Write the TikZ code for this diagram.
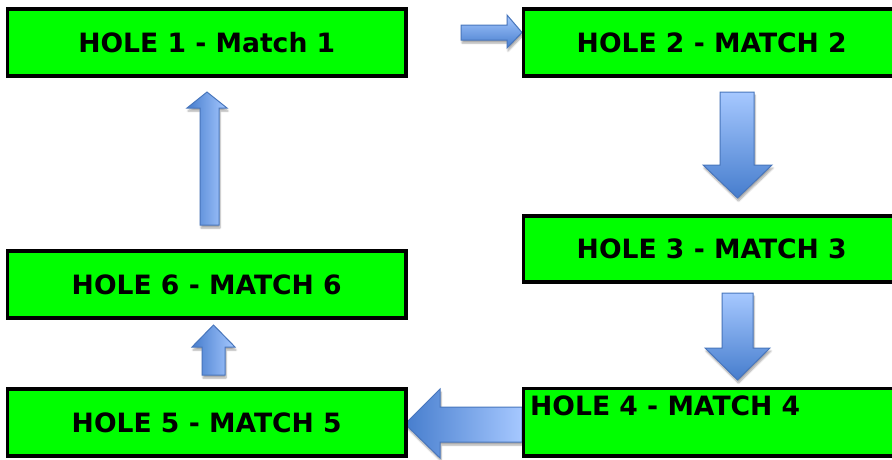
\documentclass[tikz,border=0pt]{standalone}
\usepackage{fontspec}
\newfontfamily\boxfont{DejaVu Sans}
\usetikzlibrary{shadows.blur}
\definecolor{boxgreen}{RGB}{0,255,0}
\definecolor{arrlight}{RGB}{166,200,255}
\definecolor{arrdark}{RGB}{70,125,205}
\definecolor{arredge}{RGB}{72,118,188}
\begin{document}
\begin{tikzpicture}[x=1pt,y=-1pt,
  box/.style={draw=black, line width=3.6pt, fill=boxgreen, inner sep=0pt,
    font=\boxfont\bfseries\fontsize{26.6}{30}\selectfont},
  boxtext/.style={inner sep=0pt, font=\boxfont\bfseries\fontsize{26.6}{30}\selectfont},
  blockarrow/.style={draw=arredge, line width=1pt, line join=miter,
    blur shadow={shadow xshift=1pt, shadow yshift=-3pt, shadow blur steps=6, shadow opacity=35}},
  vshade/.style={top color=arrlight, bottom color=arrdark},
  hshade/.style={left color=arrdark, right color=arrlight}
]
\useasboundingbox (0,0) rectangle (892,459);
\clip (0,0) rectangle (892,459);
% block arrows
\path[blockarrow, vshade] (461,25) -- (507,25) -- (507,15) -- (522,32.5) -- (507,48) -- (507,40) -- (461,40) -- cycle;
\path[blockarrow, vshade] (720,92) -- (754,92) -- (754,165) -- (772,165) -- (737.5,198) -- (703,165) -- (720,165) -- cycle;
\path[blockarrow, vshade] (722,293) -- (753,293) -- (753,348) -- (770,348) -- (737.5,380) -- (705,348) -- (722,348) -- cycle;
\path[blockarrow, hshade] (522,407) -- (440,407) -- (440,389) -- (405,424) -- (440,458) -- (440,442) -- (522,442) -- cycle;
\path[blockarrow, hshade] (200,225) -- (200,108) -- (187,108) -- (207,92) -- (227,108) -- (219,108) -- (219,225) -- cycle;
\path[blockarrow, hshade] (202,375) -- (202,347) -- (192,347) -- (213.5,325) -- (235,347) -- (225,347) -- (225,375) -- cycle;
% boxes
\node[box, minimum width=398.5pt, minimum height=67pt] (b1) at (206.75,42.5) {HOLE 1 - Match 1};
\node[box, minimum width=376.5pt, minimum height=67pt] (b2) at (711.75,42.5) {HOLE 2 - MATCH 2};
\node[box, minimum width=376.5pt, minimum height=66pt] (b3) at (711.75,249) {HOLE 3 - MATCH 3};
\node[box, minimum width=376.5pt, minimum height=67.5pt] (b4) at (711.75,422.25) {};
\node[boxtext, anchor=base west] (t4) at (530,415) {HOLE 4 - MATCH 4};
\node[box, minimum width=398.5pt, minimum height=67pt] (b5) at (206.75,422.5) {HOLE 5 - MATCH 5};
\node[box, minimum width=398.5pt, minimum height=67pt] (b6) at (206.75,284.5) {HOLE 6 - MATCH 6};
\end{tikzpicture}
\end{document}
